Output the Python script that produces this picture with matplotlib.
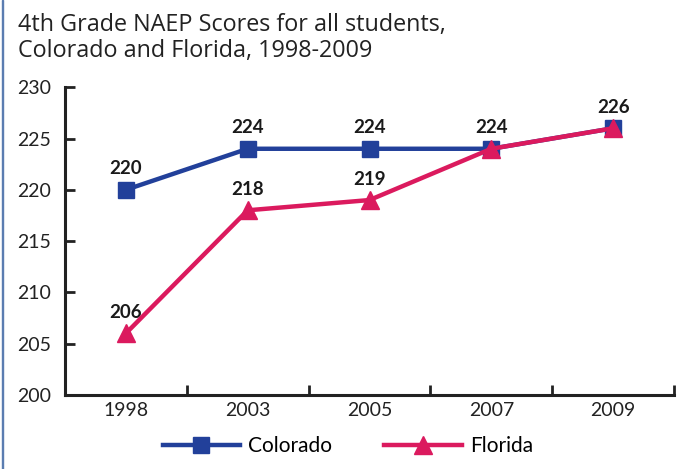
import matplotlib
matplotlib.use("Agg")
import matplotlib.pyplot as plt
from matplotlib.lines import Line2D
from matplotlib.patches import Rectangle
from matplotlib import font_manager

years = ["1998", "2003", "2005", "2007", "2009"]
colorado = [220, 224, 224, 224, 226]
florida = [206, 218, 219, 224, 226]
yticks = [200, 205, 210, 215, 220, 225, 230]

blue = "#22409A"
pink = "#DB1A5E"
names = {f.name for f in font_manager.fontManager.ttflist}
font = ["Lato", "DejaVu Sans"]
tfont = ["Open Sans", "DejaVu Sans"]
bfont = (["Liberation Sans Narrow"] if "Liberation Sans Narrow" in names else ["Lato"]) + ["DejaVu Sans"]

fig = plt.figure(figsize=(6.89, 4.69), dpi=100)
fig.patches.append(Rectangle((0.003, 0), 0.002, 1, transform=fig.transFigure,
                             color="#5B7DB1", zorder=0))
ax = fig.add_axes([0.0943, 0.158, 0.884, 0.656])
x = list(range(len(years)))
ax.plot(x, colorado, color=blue, lw=3.2, marker="s", ms=12, zorder=3)
ax.plot(x, florida, color=pink, lw=3.2, marker="^", ms=13, zorder=4)

for i, v in enumerate(colorado):
    ax.text(i, v + 1.2, str(v), ha="center", va="bottom", fontsize=13.5,
            fontweight="bold", family=bfont, color="#1a1a1a")
for i, v in enumerate(florida):
    if i in (3, 4):
        continue
    ax.text(i, v + 1.2, str(v), ha="center", va="bottom", fontsize=13.5,
            fontweight="bold", family=bfont, color="#1a1a1a")

ax.set_xlim(-0.5, 4.5)
ax.set_ylim(200, 230)
ax.set_yticks(yticks)
ax.set_yticklabels([str(t) for t in yticks], family=font, fontsize=14, color="#222222")
ax.set_xticks(x)
ax.set_xticklabels(years, family=font, fontsize=14, color="#222222")
ax.tick_params(axis="x", length=0, pad=5)
ax.set_xticks([i + 0.5 for i in range(len(years))], minor=True)
ax.tick_params(axis="x", which="minor", direction="in", length=7, width=2, color="#222222")
ax.tick_params(axis="y", direction="in", length=7, width=2, color="#222222", pad=10)
for s in ["top", "right"]:
    ax.spines[s].set_visible(False)
for s in ["left", "bottom"]:
    ax.spines[s].set_linewidth(2.2)
    ax.spines[s].set_color("#222222")

fig.text(0.026, 0.972, "4th Grade NAEP Scores for all students,\nColorado and Florida, 1998-2009",
         ha="left", va="top", fontsize=16.8, family=tfont, color="#222222", linespacing=1.08)

handles = [Line2D([], [], color=blue, lw=3.2, marker="s", ms=12),
           Line2D([], [], color=pink, lw=3.2, marker="^", ms=13)]
fig.legend(handles, ["Colorado", "Florida"], loc="center", bbox_to_anchor=(0.505, 0.049),
           ncol=2, frameon=False, prop={"family": font, "size": 15},
           handlelength=3.7, columnspacing=2.5, handletextpad=0.4)

fig.savefig("out.png", dpi=100)
